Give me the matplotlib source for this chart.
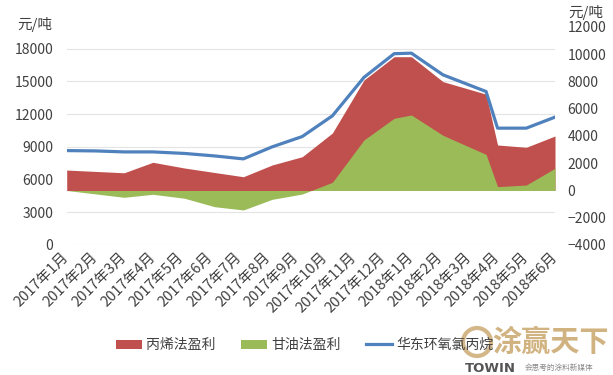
import matplotlib
matplotlib.use("Agg")
import matplotlib.pyplot as plt
from matplotlib.patches import Patch, Ellipse
from matplotlib.lines import Line2D

plt.rcParams["font.family"] = ["Noto Sans CJK SC", "DejaVu Sans"]

categories = [
    "2017年1月", "2017年2月", "2017年3月", "2017年4月", "2017年5月", "2017年6月",
    "2017年7月", "2017年8月", "2017年9月", "2017年10月", "2017年11月", "2017年12月",
    "2018年1月", "2018年2月", "2018年3月", "2018年4月", "2018年5月", "2018年6月",
]
# sampling position of each point, in months from 2017-01
month_pos = [0, 1, 2, 3, 4.1, 5.15, 6.15, 7.15, 8.2, 9.25, 10.35, 11.4,
             12, 13.1, 14.6, 15, 16, 17]
# 华东环氧氯丙烷 price, left axis (元/吨)
price = [8660, 8630, 8540, 8540, 8400, 8170, 7900, 9000, 9950, 11850, 15380,
         17550, 17600, 15610, 14080, 10720, 10720, 11730]
# profits, right axis (元/吨)
propylene_profit = [1500, 1400, 1300, 2070, 1650, 1320, 1010, 1870, 2480, 4220,
                    8110, 9820, 9820, 7990, 7070, 3340, 3170, 4000]
glycerin_profit = [0, -250, -500, -280, -570, -1190, -1430, -650, -260, 600,
                   3710, 5300, 5540, 4050, 2650, 280, 400, 1630]

RED = "#C0504D"
GREEN = "#9BBB59"
BLUE = "#4F81BD"
TXT = "#404040"

fig = plt.figure(figsize=(6.13, 3.75), dpi=100)
ax = fig.add_axes([0.1088, 0.3467, 0.7966, 0.5813])
ax2 = ax.twinx()

ax.set_xlim(0, 17)
ax.set_ylim(0, 20000)
ax2.set_ylim(-4000, 12000)
ax.set_yticks(range(0, 18001, 3000))
ax2.set_yticks(range(-4000, 12001, 2000))
ax.grid(axis="y", color="#e4e4e4", lw=0.8)
ax.set_axisbelow(True)

ax2.fill_between(month_pos, 0, propylene_profit, color=RED, lw=0, zorder=1)
ax2.fill_between(month_pos, 0, glycerin_profit, color=GREEN, lw=0, zorder=2)
# price line uses the left scale but is drawn above the areas
ax2.plot(month_pos, price, color=BLUE, lw=2.3, transform=ax.transData,
         zorder=3, solid_joinstyle="round")

for a in (ax, ax2):
    for s in a.spines.values():
        s.set_visible(False)
    a.tick_params(length=0, colors=TXT, labelsize=10)
ax.tick_params(axis="y", pad=9.5)
ax2.tick_params(axis="y", pad=9)
ax.tick_params(axis="x", pad=7, labelsize=10.5)

ax.set_xticks(range(len(categories)))
ax.set_xticklabels(categories, rotation=45, ha="right", va="center",
                   rotation_mode="anchor")

fig.text(17 / 613, 1 - 24 / 375, "元/吨", fontsize=10.5, color=TXT, va="center")
fig.text(568 / 613, 1 - 12 / 375, "元/吨", fontsize=10.5, color=TXT, va="center")

handles = [
    Patch(facecolor=RED, edgecolor="none", label="丙烯法盈利"),
    Patch(facecolor=GREEN, edgecolor="none", label="甘油法盈利"),
    Line2D([], [], color=BLUE, lw=2.3, label="华东环氧氯丙烷"),
]
fig.legend(handles=handles, loc="center", bbox_to_anchor=(0.497, 0.08), ncol=3,
           frameon=False, fontsize=10, handlelength=1.9, handleheight=0.6,
           handletextpad=0.3, columnspacing=1.8, labelcolor=TXT)

# watermark
GOLD = "#C9A56B"
fig.add_artist(Ellipse((477 / 613, 1 - 342 / 375), 28 / 613, 28 / 375,
                       transform=fig.transFigure, fill=False, ec=GOLD, lw=3,
                       alpha=0.8))
fig.text(492 / 613, 1 - 342 / 375, "涂赢天下", fontsize=21, color=GOLD,
         fontweight="bold", va="center", alpha=0.85)
fig.text(465 / 613, 1 - 368 / 375, "TOWIN", fontsize=9.5, color="#555555",
         fontweight="bold", va="center", family="DejaVu Sans")
fig.text(525 / 613, 1 - 368 / 375, "会思考的涂料新媒体", fontsize=5.5,
         color="#888888", va="center")

fig.savefig("out.png", dpi=100)
